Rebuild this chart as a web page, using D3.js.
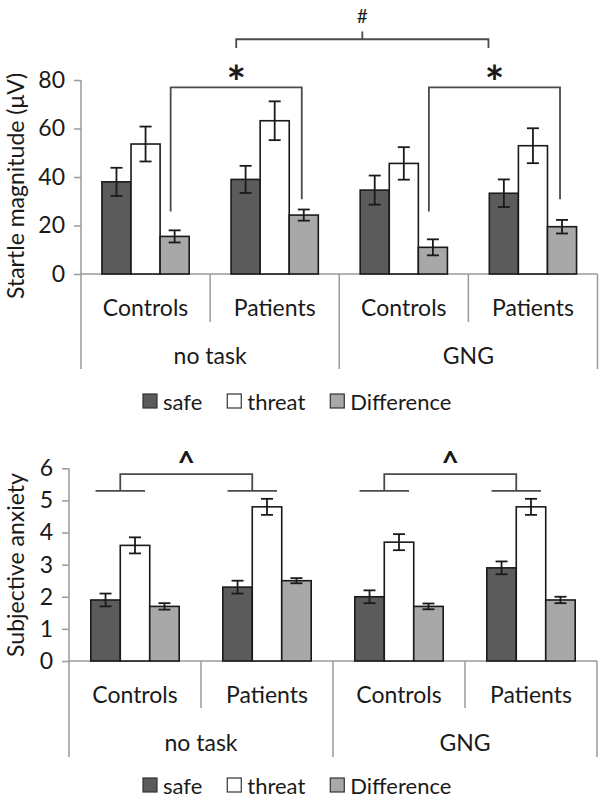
<!DOCTYPE html>
<html>
<head>
<meta charset="utf-8">
<script src="https://cdn.jsdelivr.net/npm/d3@7"></script>
<style>
  body { margin: 0; background: #fff; }
  svg { display: block; font-family: Lato, "Open Sans", sans-serif; }
</style>
</head>
<body>
<svg id="chart" width="600" height="800"></svg>
<script>
// categories
var tasks = ["no task", "GNG"];
var groups = ["Controls", "Patients"];
var series = ["safe", "threat", "Difference"];
var colors = ["#5b5b5b", "#ffffff", "#a8a8a8"];

// startle magnitude (µV), order: no task Controls, no task Patients, GNG Controls, GNG Patients
var startleSafe = [38, 39, 34.6, 33.3];
var startleSafeErr = [5.8, 5.6, 6, 5.7];
var startleThreat = [53.6, 63.2, 45.6, 52.9];
var startleThreatErr = [7.2, 8, 6.7, 7.2];
var startleDiff = [15.5, 24.3, 11, 19.5];
var startleDiffErr = [2.5, 2.3, 3.3, 2.8];
var startleTicks = [0, 20, 40, 60, 80];

// subjective anxiety
var anxietySafe = [1.9, 2.3, 2.0, 2.9];
var anxietySafeErr = [0.2, 0.2, 0.2, 0.2];
var anxietyThreat = [3.6, 4.8, 3.7, 4.8];
var anxietyThreatErr = [0.25, 0.25, 0.25, 0.25];
var anxietyDiff = [1.7, 2.5, 1.7, 1.9];
var anxietyDiffErr = [0.1, 0.08, 0.09, 0.1];
var anxietyTicks = [0, 1, 2, 3, 4, 5, 6];

var svg = d3.select("#chart");
var ink = "#1a1a1a", axisCol = "#9a9a9a", bracketCol = "#4a4a4a";

var cells = [];
tasks.forEach(function (t) { groups.forEach(function (g) { cells.push(t + "|" + g); }); });

function drawPanel(o) {
    var g = svg.append("g");
    var y = d3.scaleLinear().domain(o.domain).range(o.yRange);
    var x = d3.scaleBand().domain(cells).range([o.left, o.right]).padding(0);
    var xs = d3.scaleBand().domain(series).range([0, x.bandwidth()])
        .paddingInner(0).paddingOuter(o.outerPad);
    var vals = o.values, errs = o.errs;

    // y axis
    var yAxis = d3.axisLeft(y).tickValues(o.ticks).tickSize(7).tickPadding(9).tickFormat(d3.format("d"));
    var ga = g.append("g").attr("transform", "translate(" + o.left + ",0)").call(yAxis);
    ga.select(".domain").remove();
    ga.selectAll(".tick line").attr("stroke", axisCol).attr("stroke-width", 1.5);
    ga.selectAll(".tick text").attr("fill", ink).style("font-size", "23px").style("font-family", "Lato");
    g.append("line").attr("x1", o.left).attr("x2", o.left)
        .attr("y1", y(o.domain[1])).attr("y2", o.longBottom)
        .attr("stroke", axisCol).attr("stroke-width", 1.5);

    // x axis baseline and category dividers
    g.append("line").attr("x1", o.left).attr("x2", o.right)
        .attr("y1", y(0)).attr("y2", y(0)).attr("stroke", axisCol).attr("stroke-width", 1.5);
    cells.forEach(function (c, i) {
        var xe = x(c) + x.bandwidth();
        var isLong = (i % 2 === 1);
        g.append("line").attr("x1", xe).attr("x2", xe)
            .attr("y1", y(0)).attr("y2", isLong ? o.longBottom : o.shortBottom)
            .attr("stroke", axisCol).attr("stroke-width", 1.5);
        g.append("text").attr("x", x(c) + x.bandwidth() / 2).attr("y", o.row1Y)
            .attr("text-anchor", "middle").attr("dominant-baseline", "central")
            .attr("fill", ink).style("font-size", "23px").text(c.split("|")[1]);
    });
    tasks.forEach(function (t) {
        var a = x(t + "|" + groups[0]), b = x(t + "|" + groups[1]) + x.bandwidth();
        g.append("text").attr("x", (a + b) / 2).attr("y", o.row2Y)
            .attr("text-anchor", "middle").attr("dominant-baseline", "central")
            .attr("fill", ink).style("font-size", "23px").text(t);
    });

    // bars
    series.forEach(function (s, si) {
        g.append("g").selectAll("rect").data(vals[si]).join("rect")
            .attr("x", function (d, i) { return x(cells[i]) + xs(s); })
            .attr("y", function (d) { return y(d); })
            .attr("width", xs.bandwidth())
            .attr("height", function (d) { return y(0) - y(d); })
            .attr("fill", colors[si]).attr("stroke", ink).attr("stroke-width", 1.6);
    });

    // error bars
    series.forEach(function (s, si) {
        vals[si].forEach(function (v, i) {
            var cx = x(cells[i]) + xs(s) + xs.bandwidth() / 2;
            var e = errs[si][i];
            var eg = g.append("g").attr("stroke", ink).attr("stroke-width", 1.8);
            eg.append("line").attr("x1", cx).attr("x2", cx).attr("y1", y(v + e)).attr("y2", y(v - e));
            eg.append("line").attr("x1", cx - 6).attr("x2", cx + 6).attr("y1", y(v + e)).attr("y2", y(v + e));
            eg.append("line").attr("x1", cx - 6).attr("x2", cx + 6).attr("y1", y(v - e)).attr("y2", y(v - e));
        });
    });

    // axis title
    g.append("text")
        .attr("transform", "translate(" + o.titleX + "," + o.titleY + ") rotate(-90)")
        .attr("text-anchor", "middle").attr("fill", ink).style("font-size", "23px")
        .text(o.title);

    // legend
    var lg = g.append("g").attr("transform", "translate(143," + o.legendY + ")");
    var lx = 0;
    series.forEach(function (s, si) {
        lg.append("rect").attr("x", lx).attr("y", -7).attr("width", 14).attr("height", 14)
            .attr("fill", colors[si]).attr("stroke", "#333").attr("stroke-width", 1.2);
        var t = lg.append("text").attr("x", lx + 20).attr("y", 0).attr("dominant-baseline", "central")
            .attr("fill", ink).style("font-size", "22px").text(s);
        lx += 20 + t.node().getComputedTextLength() + 25;
    });

    return { x: x, xs: xs, y: y, g: g };
}

function bracketPath(x1, x2, yTop, yL, yR) {
    return "M" + x1 + "," + yL + "V" + yTop + "H" + x2 + "V" + yR;
}

// ---- top panel: startle ----
var p1 = drawPanel({
    domain: [0, 80], yRange: [274, 80], ticks: startleTicks,
    left: 81, right: 597.5, outerPad: 0.72,
    values: [startleSafe, startleThreat, startleDiff],
    errs: [startleSafeErr, startleThreatErr, startleDiffErr],
    shortBottom: 322, longBottom: 369, row1Y: 307, row2Y: 355, legendY: 401,
    title: "Startle magnitude (\u03bcV)", titleX: 24, titleY: 186
});

var starX = [];
[[0, 1], [2, 3]].forEach(function (pr) {
    var diffC = function (i) { return p1.x(cells[i]) + p1.xs("Difference") + p1.xs.bandwidth() / 2; };
    var xa = diffC(pr[0]) - 4, xb = diffC(pr[1]) - 2;
    p1.g.append("path").attr("d", bracketPath(xa, xb, p1.y(77), p1.y(25.8), p1.y(30.8)))
        .attr("fill", "none").attr("stroke", bracketCol).attr("stroke-width", 1.8);
    var sx = (xa + xb) / 2;
    starX.push(sx);
    p1.g.append("text").attr("x", sx).attr("y", 99).attr("text-anchor", "middle")
        .attr("fill", ink).style("font-size", "46px").style("font-weight", "bold").text("*");
});
var hx1 = starX[0], hx2 = starX[1] - 6, hm = (hx1 + hx2) / 2;
p1.g.append("path")
    .attr("d", "M" + hx1 + "," + p1.y(93.2) + "V" + p1.y(96.8) + "H" + hx2 + "V" + p1.y(93.2) +
        "M" + hm + "," + p1.y(96.8) + "V" + p1.y(100))
    .attr("fill", "none").attr("stroke", bracketCol).attr("stroke-width", 1.8);
p1.g.append("text").attr("x", hm).attr("y", 23).attr("text-anchor", "middle")
    .attr("fill", ink).style("font-size", "19px").text("#");

// ---- bottom panel: subjective anxiety ----
var p2 = drawPanel({
    domain: [0, 6], yRange: [661, 468.3], ticks: anxietyTicks,
    left: 69, right: 597, outerPad: 0.74,
    values: [anxietySafe, anxietyThreat, anxietyDiff],
    errs: [anxietySafeErr, anxietyThreatErr, anxietyDiffErr],
    shortBottom: 708, longBottom: 757, row1Y: 694, row2Y: 742, legendY: 785,
    title: "Subjective anxiety", titleX: 24, titleY: 565
});

[[0, 1], [2, 3]].forEach(function (pr) {
    var mids = pr.map(function (i) {
        var a = p2.x(cells[i]) + p2.xs("safe") + p2.xs.bandwidth() / 2;
        var b = p2.x(cells[i]) + p2.xs("threat") + p2.xs.bandwidth() / 2;
        p2.g.append("line").attr("x1", a - 10).attr("x2", b + 10)
            .attr("y1", p2.y(5.3)).attr("y2", p2.y(5.3))
            .attr("stroke", bracketCol).attr("stroke-width", 1.8);
        return (a + b) / 2;
    });
    p2.g.append("path").attr("d", bracketPath(mids[0], mids[1], p2.y(5.82), p2.y(5.3), p2.y(5.3)))
        .attr("fill", "none").attr("stroke", bracketCol).attr("stroke-width", 1.8);
    p2.g.append("text").attr("x", (mids[0] + mids[1]) / 2).attr("y", 473).attr("text-anchor", "middle")
        .attr("fill", ink).style("font-size", "30px").style("font-weight", "bold").text("^");
});
</script>
</body>
</html>
